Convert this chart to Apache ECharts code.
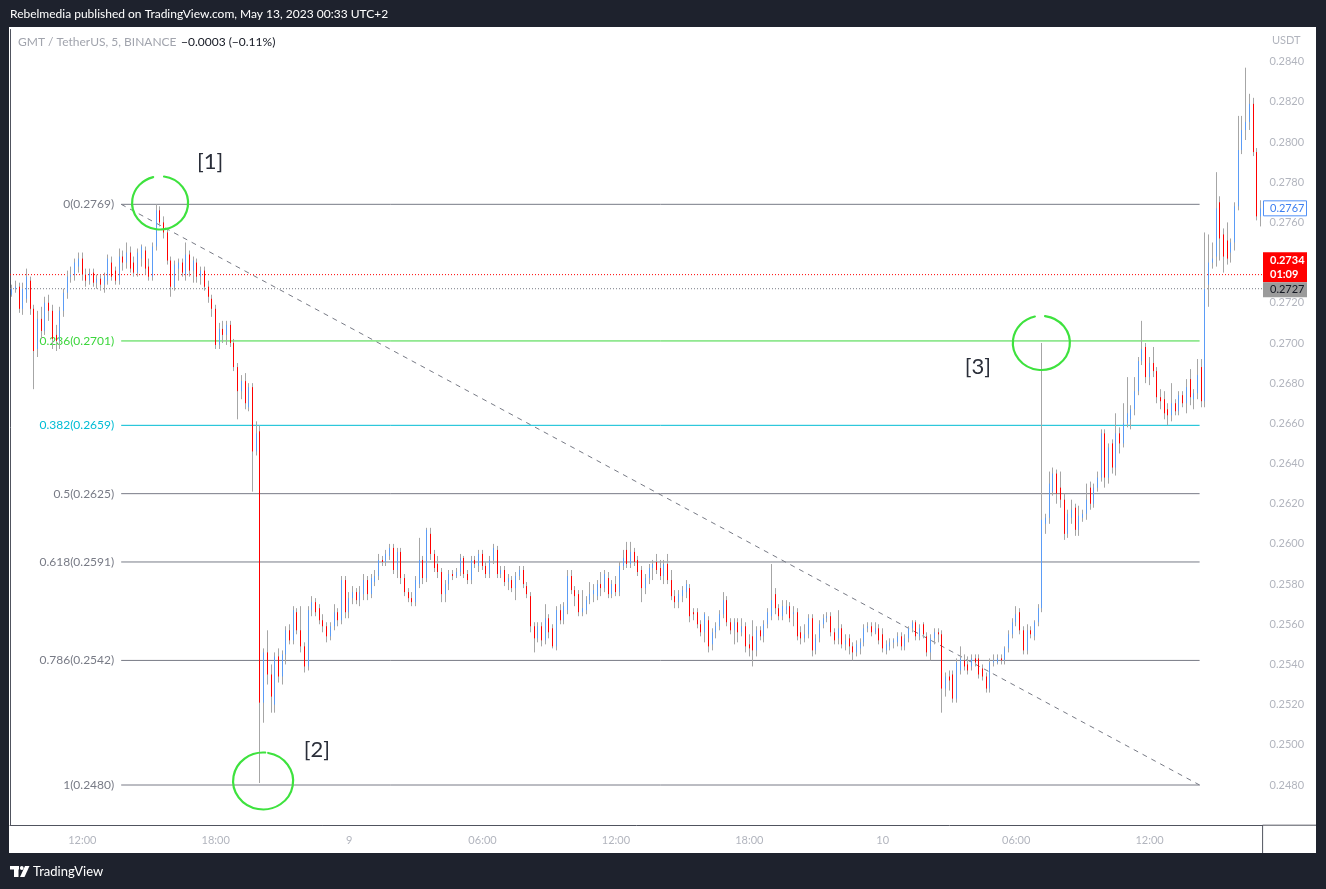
<!DOCTYPE html>
<html><head><meta charset="utf-8">
<script src="https://cdn.jsdelivr.net/npm/echarts@6/dist/echarts.min.js"></script>
<style>html,body{margin:0;padding:0;background:#1e222d;}#c{width:1326px;height:889px;}</style>
</head><body><div id="c"></div>
<script>
// GMT / TetherUS, BINANCE – candles [open, close, low, high] in units of 0.0001 USDT, 10-minute slots from 2023-05-08 08:50
const CANDLES_MAY8 = [
[2724,2727,2723,2729],[2727,2728,2725,2731],[2728,2717,2715,2730],[2717,2727,2714,2730],[2722,2733,2720,2737],
[2731,2717,2714,2733],[2717,2696,2677,2719],[2697,2712,2693,2716],[2712,2706,2702,2718],[2706,2720,2704,2723],
[2720,2716,2711,2724],[2716,2702,2697,2719],[2704,2701,2696,2709],[2701,2716,2697,2718],[2716,2725,2713,2727],
[2725,2733,2722,2736],[2733,2734,2730,2738],[2734,2740,2731,2742],[2738,2742,2735,2745],[2742,2734,2731,2745],
[2734,2731,2728,2737],[2731,2735,2729,2737],[2735,2730,2728,2737],[2730,2732,2727,2734],[2732,2729,2726,2734],
[2729,2733,2725,2735],[2731,2742,2729,2744],[2740,2733,2731,2743],[2736,2731,2729,2738],[2731,2743,2729,2747],
[2743,2740,2736,2746],[2740,2745,2737,2750],[2745,2737,2735,2748],[2740,2735,2733,2743],[2735,2745,2733,2747],
[2742,2748,2738,2749],[2746,2737,2734,2748],[2738,2733,2731,2742],[2733,2748,2731,2750],[2748,2766,2746,2769],
[2766,2760,2758,2768],[2760,2755,2752,2763],[2755,2741,2739,2757],[2741,2728,2723,2743],[2728,2739,2726,2741],
[2737,2740,2731,2742],[2740,2735,2733,2742],[2734,2744,2731,2750],[2744,2736,2733,2746],[2736,2741,2730,2743],
[2740,2733,2730,2742],[2733,2736,2729,2738],[2736,2728,2726,2738],[2728,2723,2720,2731],[2722,2717,2713,2724],
[2717,2699,2697,2719],[2699,2707,2697,2710],[2707,2704,2700,2711],[2704,2709,2699,2711],[2709,2700,2698,2711],
[2700,2688,2686,2702],[2688,2676,2662,2690],[2676,2681,2672,2684],[2681,2670,2667,2685],[2668,2678,2666,2680],
[2678,2646,2626,2680],[2646,2655,2644,2661],[2656,2521,2481,2659],[2521,2546,2511,2548],[2546,2535,2530,2557],
[2535,2524,2516,2540],[2520,2544,2516,2546],[2544,2534,2531,2548],[2534,2545,2530,2547],[2545,2557,2540,2559],
[2557,2552,2550,2560],[2552,2567,2550,2569],[2566,2557,2555,2568],[2557,2549,2546,2569],[2549,2539,2536,2551],
[2539,2567,2537,2569],[2567,2571,2564,2574],[2571,2566,2564,2573],[2568,2562,2560,2570],[2562,2559,2556,2565],
[2559,2554,2551,2561],[2554,2559,2552,2561],[2559,2566,2557,2570],[2566,2562,2559,2568],[2562,2582,2560,2584],
[2582,2566,2563,2584]
];
const CANDLES_MAY9 = [
[2566,2573,2563,2576],[2573,2576,2570,2579],[2576,2572,2570,2578],[2572,2576,2569,2579],[2575,2582,2572,2585],
[2582,2575,2572,2584],[2575,2583,2573,2585],[2581,2584,2579,2587],[2584,2592,2582,2595],[2592,2591,2589,2594],
[2591,2595,2589,2597],[2594,2598,2592,2600],[2598,2587,2585,2600],[2587,2596,2583,2598],[2596,2583,2580,2598],
[2583,2576,2574,2585],[2576,2573,2571,2578],[2573,2571,2569,2576],[2571,2582,2569,2584],[2580,2592,2578,2603],
[2592,2583,2580,2594],[2583,2607,2581,2608],[2605,2595,2592,2608],[2595,2588,2586,2597],[2590,2586,2583,2594],
[2586,2575,2571,2588],[2575,2580,2571,2582],[2580,2585,2577,2587],[2585,2584,2582,2587],[2584,2586,2583,2588],
[2586,2593,2584,2595],[2593,2585,2583,2594],[2585,2582,2580,2587],[2582,2592,2580,2594],[2592,2590,2588,2594],
[2589,2595,2586,2597],[2595,2589,2587,2597],[2589,2585,2583,2591],[2585,2592,2583,2594],[2592,2598,2590,2600],
[2597,2585,2583,2599],[2585,2587,2583,2589],[2587,2581,2579,2589],[2581,2583,2577,2585],[2582,2578,2576,2584],
[2578,2584,2572,2586],[2584,2587,2582,2589],[2587,2580,2578,2589],[2579,2575,2573,2581],[2574,2559,2556,2576],
[2559,2553,2546,2561],[2553,2559,2551,2561],[2559,2552,2549,2561],[2552,2563,2550,2570],[2563,2556,2553,2565],
[2558,2549,2548,2560],[2549,2567,2547,2569],[2567,2562,2560,2570],[2562,2569,2560,2571],[2567,2584,2565,2587],
[2584,2577,2575,2587],[2577,2574,2569,2579],[2575,2566,2564,2577],[2566,2568,2564,2577],[2567,2572,2565,2574],
[2572,2575,2570,2581],[2575,2577,2571,2580],[2574,2580,2572,2582],[2580,2578,2574,2586],[2578,2585,2576,2587],
[2583,2575,2573,2586],[2575,2580,2573,2582],[2580,2576,2574,2584],[2576,2589,2574,2591],[2589,2593,2587,2597],
[2597,2590,2588,2601],[2590,2596,2588,2601],[2596,2591,2589,2598],[2592,2586,2584,2594],[2587,2578,2571,2589],
[2578,2583,2575,2585],[2583,2588,2580,2590],[2588,2590,2582,2592],[2591,2587,2585,2595],[2588,2584,2582,2592],
[2584,2590,2580,2592],[2590,2582,2580,2595],[2582,2574,2572,2587],[2574,2571,2568,2577],[2571,2575,2568,2577],
[2574,2577,2571,2579],[2576,2580,2573,2582],[2578,2564,2561,2580],[2566,2565,2562,2568],[2566,2560,2558,2568],
[2560,2556,2554,2562],[2556,2565,2551,2566],[2562,2549,2546,2564],[2550,2556,2547,2558],[2556,2559,2553,2561],
[2559,2565,2557,2567],[2565,2572,2563,2576],[2572,2561,2559,2574],[2561,2557,2555,2563],[2557,2561,2550,2563],
[2561,2556,2551,2563],[2556,2559,2554,2563],[2559,2549,2546,2561],[2550,2548,2544,2555],[2554,2547,2539,2562],
[2547,2557,2544,2559],[2557,2554,2552,2559],[2554,2560,2551,2562],[2560,2566,2558,2568],[2564,2572,2562,2590],
[2575,2568,2565,2578],[2568,2564,2562,2570],[2564,2569,2562,2572],[2567,2569,2565,2572],[2569,2563,2561,2571],
[2565,2566,2559,2569],[2566,2554,2552,2568],[2556,2553,2550,2559],[2553,2555,2551,2560],[2555,2563,2553,2565],
[2563,2547,2544,2565],[2547,2553,2545,2555],[2553,2560,2551,2562],[2560,2563,2558,2565],[2563,2564,2561,2566],
[2564,2556,2554,2566],[2556,2552,2550,2558],[2553,2558,2550,2567],[2558,2550,2548,2560],[2550,2552,2547,2555],
[2553,2549,2545,2555],[2549,2546,2542,2551],[2546,2550,2544,2552],[2548,2551,2545,2553],[2551,2558,2549,2560],
[2558,2559,2556,2561],[2559,2556,2554,2561],[2556,2558,2555,2561],[2558,2552,2550,2560]
];
const CANDLES_MAY10 = [
[2555,2548,2546,2558],[2547,2550,2545,2552],[2549,2551,2547,2553],[2551,2552,2548,2553],[2551,2554,2549,2556],
[2554,2549,2547,2556],[2549,2553,2547,2555],[2553,2558,2551,2559],[2558,2561,2556,2562],[2561,2554,2552,2562],
[2554,2558,2552,2560],[2560,2555,2553,2561],[2554,2546,2544,2556],[2546,2553,2542,2555],[2553,2556,2550,2558],
[2556,2555,2551,2558],[2555,2528,2516,2557],[2528,2534,2524,2536],[2534,2532,2527,2537],[2535,2523,2521,2537],
[2523,2541,2521,2543],[2537,2543,2535,2549],[2542,2539,2537,2545],[2540,2537,2535,2544],[2539,2543,2537,2545],
[2543,2541,2539,2545],[2543,2535,2533,2545],[2538,2534,2532,2540],[2534,2528,2526,2536],[2528,2541,2526,2543],
[2541,2542,2539,2545],[2541,2543,2540,2545],[2543,2542,2540,2545],[2542,2548,2540,2549],[2548,2555,2546,2557],
[2555,2561,2553,2563],[2561,2565,2559,2569],[2566,2557,2555,2568],[2557,2547,2545,2559],[2547,2557,2545,2560],
[2557,2555,2553,2559],[2554,2561,2552,2562],[2561,2568,2559,2570],[2568,2612,2566,2700],[2610,2613,2605,2615],
[2613,2630,2610,2636],[2626,2635,2624,2638],[2635,2625,2620,2637],[2628,2622,2618,2636],[2622,2605,2602,2625],
[2605,2615,2603,2617],[2613,2617,2610,2622],[2618,2607,2604,2620],[2607,2614,2604,2619],[2613,2615,2611,2617],
[2615,2622,2612,2630],[2628,2620,2617,2631],[2620,2628,2618,2630],[2628,2633,2626,2636],[2633,2655,2631,2657],
[2655,2633,2628,2657],[2633,2648,2630,2650],[2650,2638,2635,2652],[2638,2655,2634,2665],[2655,2650,2645,2658],
[2650,2660,2648,2670],[2660,2665,2658,2683],[2662,2667,2657,2669],[2667,2676,2664,2683],[2676,2691,2674,2693],
[2691,2697,2689,2711],[2698,2683,2680,2700],[2683,2690,2679,2693],[2690,2686,2683,2698],[2686,2673,2670,2688],
[2673,2671,2667,2677],[2672,2665,2662,2676],[2667,2664,2659,2670],[2664,2670,2661,2680],[2670,2666,2664,2672],
[2666,2674,2664,2676],[2674,2670,2668,2676],[2670,2678,2665,2682],[2682,2673,2669,2687],[2672,2675,2667,2677],
[2675,2684,2672,2692],[2688,2671,2668,2692],[2671,2727,2668,2755],[2729,2740,2718,2754],[2740,2742,2737,2750],
[2743,2767,2738,2785],[2770,2752,2741,2773],[2754,2743,2735,2757],[2751,2742,2739,2760],[2745,2750,2740,2752],
[2750,2768,2746,2770],[2768,2796,2766,2813],[2796,2806,2794,2813],[2806,2810,2801,2837],[2810,2819,2806,2824],
[2819,2795,2793,2822],[2795,2763,2761,2797],[2763,2767,2758,2771]
];
const PRICE_UNIT = 0.0001;

// Time axis tick labels
const TICK_TIMES  = ['2023-05-08 12:00','2023-05-08 18:00','2023-05-09 00:00','2023-05-09 06:00','2023-05-09 12:00','2023-05-09 18:00','2023-05-10 00:00','2023-05-10 06:00','2023-05-10 12:00'];
const TICK_LABELS = ['12:00','18:00','9','06:00','12:00','18:00','10','06:00','12:00'];

// Fibonacci retracement drawn from the high 0.2769 to the low 0.2480
const FIB_RATIOS = [0, 0.236, 0.382, 0.5, 0.618, 0.786, 1];
const FIB_PRICES = [0.2769, 0.2701, 0.2659, 0.2625, 0.2591, 0.2542, 0.2480];
const FIB_SPAN = [30, 321];          // in 10-minute slots

// Price labels on the scale
const LAST_CLOSE = 0.2767;
const LIVE_PRICE = 0.2734;
const LIVE_COUNTDOWN = '01:09';
const REF_PRICE = 0.2727;

// Hand-drawn notes: [slot, price]
const NOTE_TEXTS = ['[1]', '[2]', '[3]'];
const NOTE_AT = [[54.0, 0.27901], [82.8, 0.24974], [261.2, 0.26880]];
const CIRCLE_AT = [[40.5, 0.27697], [68.3, 0.24820], [278.3, 0.27000]];

const FONT = 'Lato, "Open Sans", sans-serif';
const UP = '#5b9cf6', DOWN = '#ff0000', WICK = '#a6a6a6', AXIS = '#50535e', TXT = '#b2b5be', GRAY = '#787b86';
const FIB_COLORS = [GRAY, '#3cd63c', '#00bcd4', GRAY, GRAY, GRAY, GRAY];

const ALL = CANDLES_MAY8.concat(CANDLES_MAY9, CANDLES_MAY10);
const N = ALL.length;
const pad = n => String(n).padStart(2, '0');
const t0 = Date.UTC(2023, 4, 8, 8, 50);
const cats = [];
for (let i = 0; i < N; i++) {
  const d = new Date(t0 + i * 600000);
  cats.push(d.getUTCFullYear() + '-' + pad(d.getUTCMonth() + 1) + '-' + pad(d.getUTCDate()) + ' ' + pad(d.getUTCHours()) + ':' + pad(d.getUTCMinutes()));
}
const tickMap = {};
TICK_TIMES.forEach((t, i) => tickMap[t] = TICK_LABELS[i]);

const ohlc = ALL.map(([o, c, l, h]) => [o * PRICE_UNIT, c * PRICE_UNIT, Math.min(o, c, l) * PRICE_UNIT, Math.max(o, c, h) * PRICE_UNIT]);
const bodies = ALL.map(([o, c]) => [o * PRICE_UNIT, c * PRICE_UNIT, Math.min(o, c) * PRICE_UNIT, Math.max(o, c) * PRICE_UNIT]);

// Fibonacci levels as line series on the hidden slot axis
const fibSeries = FIB_RATIOS.map((r, i) => ({
  name: 'fib ' + r, type: 'line', xAxisIndex: 1, yAxisIndex: 0, silent: true, z: 3,
  symbol: 'circle', symbolSize: 0, showSymbol: true, color: FIB_COLORS[i],
  lineStyle: { color: FIB_COLORS[i], width: 1, type: 'solid' },
  data: [
    { value: [FIB_SPAN[0], FIB_PRICES[i]],
      label: { show: true, position: 'left', distance: 7, formatter: r + '(' + FIB_PRICES[i].toFixed(4) + ')', color: FIB_COLORS[i], fontSize: 12, fontFamily: FONT } },
    { value: [FIB_SPAN[1], FIB_PRICES[i]], label: { show: false } }
  ]
}));
const trendSeries = {
  name: 'trend', type: 'line', xAxisIndex: 1, yAxisIndex: 0, silent: true, z: 3, symbol: 'none',
  lineStyle: { color: GRAY, width: 1, type: [5, 5] },
  data: [[FIB_SPAN[0], FIB_PRICES[0]], [FIB_SPAN[1], FIB_PRICES[FIB_PRICES.length - 1]]]
};
const priceLine = (name, p, color) => ({
  name: name, type: 'line', xAxisIndex: 1, yAxisIndex: 0, data: [[0, p], [N, p]], symbol: 'none', silent: true, z: 3,
  lineStyle: { color: color, width: 1, type: [1, 2] }
});

const chart = echarts.init(document.getElementById('c'), null, { width: 1326, height: 889 });
chart.setOption({
  animation: false,
  backgroundColor: '#ffffff',
  grid: { left: 10, right: 63.4, top: 29.5, bottom: 63.8 },
  xAxis: [
    { type: 'category', data: cats, boundaryGap: true,
      axisLine: { show: true, lineStyle: { color: AXIS, width: 1 } }, axisTick: { show: false }, splitLine: { show: false },
      axisLabel: { interval: (i, v) => v in tickMap, formatter: v => tickMap[v] || '', color: TXT, fontSize: 11, fontFamily: FONT, margin: 10 } },
    { type: 'value', min: 0, max: N, show: false }
  ],
  yAxis: [{
    type: 'value', position: 'right', min: 0.246, max: 0.2856, interval: 0.002,
    axisLine: { show: true, lineStyle: { color: AXIS, width: 1 } }, axisTick: { show: false }, splitLine: { show: false },
    axisLabel: { formatter: v => v.toFixed(4), color: TXT, fontSize: 11, fontFamily: FONT, margin: 7, showMinLabel: false, showMaxLabel: false }
  }],
  series: [trendSeries].concat(fibSeries, [
    priceLine('live', LIVE_PRICE, '#ff0000'),
    priceLine('ref', REF_PRICE, '#787b86'),
    { name: 'wicks', type: 'candlestick', data: ohlc, barWidth: 1, silent: true, z: 4,
      itemStyle: { color: WICK, color0: WICK, borderColor: WICK, borderColor0: WICK, borderColorDoji: WICK, borderWidth: 1 } },
    { name: 'GMT/USDT', type: 'candlestick', data: bodies, barWidth: 1, silent: true, z: 5,
      itemStyle: { color: UP, color0: DOWN, borderColor: UP, borderColor0: DOWN, borderColorDoji: UP, borderWidth: 1 } }
  ])
});

// Overlays positioned from data coordinates
const px = (v, p) => chart.convertToPixel({ seriesIndex: 0 }, [v, p]);
const yOf = p => chart.convertToPixel({ seriesIndex: 0 }, [0, p])[1];
const axisX = px(N, 0.25)[0];
const axisY = yOf(0.246);
const G = [];
const DARK = '#1e222d';
G.push({ type: 'rect', shape: { x: 0, y: 0, width: 1326, height: 27 }, style: { fill: DARK }, silent: true });
G.push({ type: 'rect', shape: { x: 0, y: 0, width: 9, height: 889 }, style: { fill: DARK }, silent: true });
G.push({ type: 'rect', shape: { x: 1316, y: 0, width: 10, height: 889 }, style: { fill: DARK }, silent: true });
G.push({ type: 'rect', shape: { x: 0, y: 853, width: 1326, height: 36 }, style: { fill: DARK }, silent: true });
G.push({ type: 'line', shape: { x1: axisX, y1: axisY, x2: 1316, y2: axisY }, style: { stroke: AXIS, lineWidth: 1 }, silent: true });
G.push({ type: 'line', shape: { x1: axisX, y1: axisY, x2: axisX, y2: 853 }, style: { stroke: AXIS, lineWidth: 1 }, silent: true });
G.push({ type: 'text', x: 10, y: 14, style: { text: 'Rebelmedia published on TradingView.com, May 13, 2023 00:33 UTC+2', fill: '#ffffff', font: '12px ' + FONT, verticalAlign: 'middle' }, silent: true });
G.push({ type: 'text', x: 18, y: 42, style: { text: 'GMT / TetherUS, 5, BINANCE', fill: '#a1a4ad', font: '12px ' + FONT, verticalAlign: 'middle' }, silent: true });
G.push({ type: 'text', x: 181, y: 42, style: { text: '\u22120.0003 (\u22120.11%)', fill: '#131722', font: '12px ' + FONT, verticalAlign: 'middle' }, silent: true });
G.push({ type: 'text', x: 1272, y: 40, style: { text: 'USDT', fill: TXT, font: '11px ' + FONT, verticalAlign: 'middle' }, silent: true });
// bottom brand
G.push({ type: 'rect', shape: { x: 10, y: 866, width: 9, height: 3.5 }, style: { fill: '#ffffff' }, silent: true });
G.push({ type: 'rect', shape: { x: 14, y: 866, width: 4.5, height: 11 }, style: { fill: '#ffffff' }, silent: true });
G.push({ type: 'circle', shape: { cx: 21.8, cy: 868, r: 1.9 }, style: { fill: '#ffffff' }, silent: true });
G.push({ type: 'polygon', shape: { points: [[25, 866], [29.5, 866], [24.5, 877], [20, 877]] }, style: { fill: '#ffffff' }, silent: true });
G.push({ type: 'text', x: 33, y: 871.5, style: { text: 'TradingView', fill: '#ffffff', font: '13px ' + FONT, verticalAlign: 'middle' }, silent: true });
// price scale labels
const yLast = yOf(LAST_CLOSE), yLive = yOf(LIVE_PRICE), yRef = yOf(REF_PRICE);
G.push({ type: 'rect', z: 100, shape: { x: 1263.5, y: yLast - 7.5, width: 43, height: 15 }, style: { fill: '#ffffff', stroke: '#4f8ff7', lineWidth: 1 }, silent: true });
G.push({ type: 'text', z: 101, x: 1270, y: yLast, style: { text: LAST_CLOSE.toFixed(4), fill: '#3d7ff0', font: '11px ' + FONT, verticalAlign: 'middle' }, silent: true });
G.push({ type: 'rect', z: 100, shape: { x: 1263, y: yLive - 22.5, width: 44, height: 30 }, style: { fill: '#ff0000' }, silent: true });
G.push({ type: 'text', z: 101, x: 1270, y: yLive - 14, style: { text: LIVE_PRICE.toFixed(4), fill: '#ffffff', font: 'bold 11px ' + FONT, verticalAlign: 'middle' }, silent: true });
G.push({ type: 'text', z: 101, x: 1270, y: yLive - 0.5, style: { text: LIVE_COUNTDOWN, fill: '#ffffff', font: 'bold 11px ' + FONT, verticalAlign: 'middle' }, silent: true });
G.push({ type: 'rect', z: 100, shape: { x: 1263, y: yRef - 6.5, width: 44, height: 15 }, style: { fill: '#9b9b9b' }, silent: true });
G.push({ type: 'text', z: 101, x: 1270, y: yRef + 1, style: { text: REF_PRICE.toFixed(4), fill: '#131722', font: '11px ' + FONT, verticalAlign: 'middle' }, silent: true });
// hand drawn circles and notes
const CIRCLE_STYLE = [{ r: 28, sy: 0.95, gap: [-0.25, 0.14] }, { r: 30, sy: 0.95, gap: [0.07, 0.17] }, { r: 28.5, sy: 0.95, gap: [-0.23, 0.13] }];
CIRCLE_AT.forEach((c, i) => {
  const [cx, cy] = px(c[0], c[1]);
  const s = CIRCLE_STYLE[i];
  G.push({ type: 'arc', x: cx, y: cy, scaleY: s.sy, shape: { cx: 0, cy: 0, r: s.r, startAngle: -Math.PI / 2 + s.gap[1], endAngle: -Math.PI / 2 + s.gap[0] + 2 * Math.PI, clockwise: true },
    style: { stroke: '#3ee23e', lineWidth: 2.2, fill: null, lineCap: 'round' }, silent: true, z: 10 });
});
NOTE_AT.forEach((n, i) => {
  const [x, y] = px(n[0], n[1]);
  G.push({ type: 'text', x: x, y: y, style: { text: NOTE_TEXTS[i], fill: '#2a2e39', font: '22px ' + FONT, align: 'center', verticalAlign: 'middle' }, silent: true, z: 10 });
});
chart.setOption({ graphic: G });
</script></body></html>
